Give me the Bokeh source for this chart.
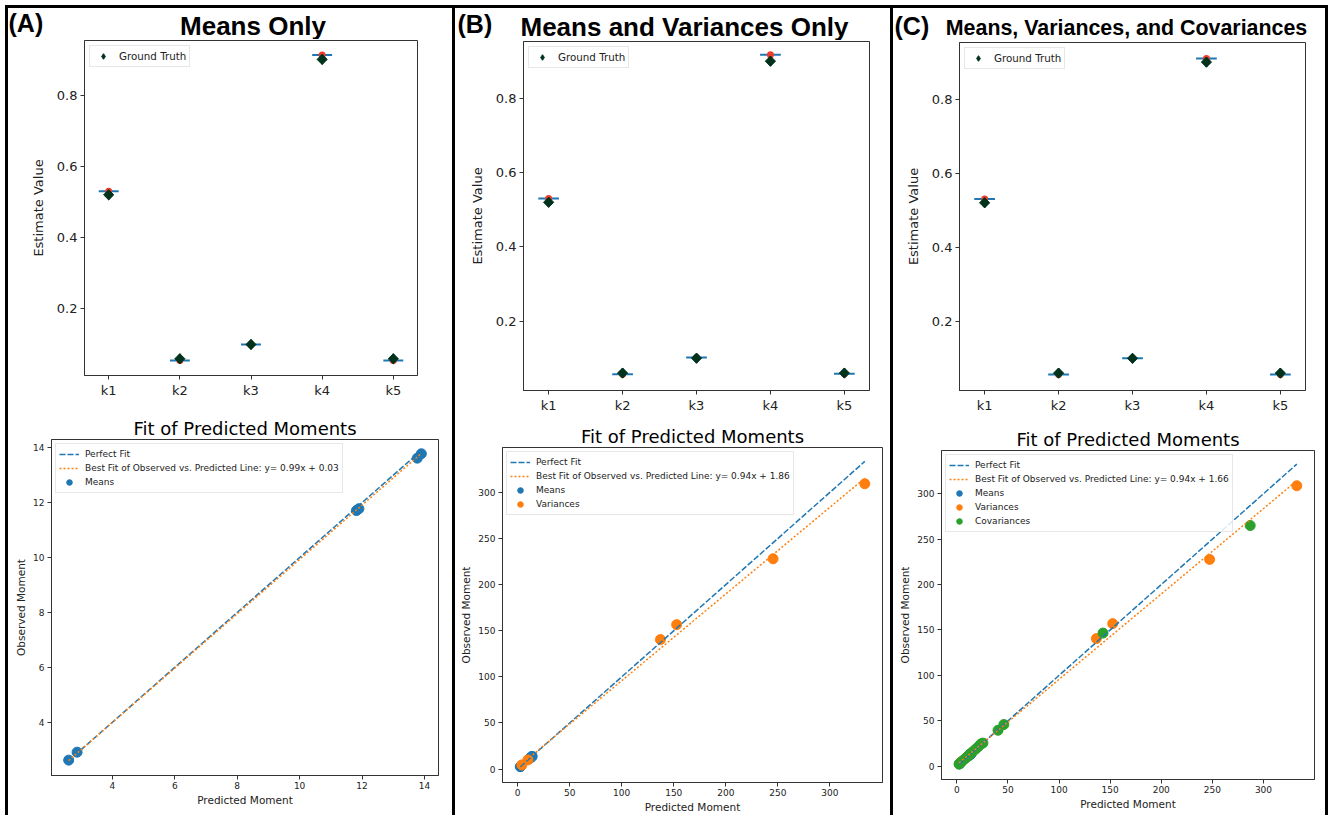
import numpy as np
from bokeh.plotting import figure
from bokeh.layouts import row, column
from bokeh.models import Range1d, FixedTicker, Legend, LegendItem, Div, Spacer, Title
from bokeh.core.properties import value
from bokeh.embed import file_html
from bokeh.resources import INLINE

# ---------------- data ----------------
categories = ["k1", "k2", "k3", "k4", "k5"]
ground_truth = [0.52, 0.06, 0.10, 0.90, 0.06]
estimate_a = [0.530, 0.055, 0.100, 0.912, 0.055]
estimate_b = [0.530, 0.057, 0.102, 0.917, 0.058]
estimate_c = [0.530, 0.056, 0.100, 0.910, 0.056]

means_pred = [2.60, 2.87, 11.82, 11.90, 13.77, 13.90]
means_obs = [2.62, 2.91, 11.71, 11.78, 13.62, 13.78]

var_pred_b = [4.1, 9.9, 137.2, 152.8, 245.4, 333.5]
var_obs_b = [4.6, 10.0, 140.4, 156.6, 228.0, 309.3]

var_pred_c = [4.1, 9.9, 136.5, 152.5, 247.3, 332.6]
var_obs_c = [4.6, 10.0, 140.5, 157.0, 227.7, 308.8]

cov_pred_c = [2.2, 3.5, 5.5, 8.0, 10.5, 12.5, 15.0, 18.0, 21.0, 23.5, 25.5, 40.3, 46.0, 143.0, 287.0]
cov_obs_c = [2.3, 3.6, 5.8, 8.2, 10.8, 13.0, 15.5, 18.5, 21.5, 24.5, 25.5, 39.6, 45.9, 146.6, 265.0]

fit_a = (0.99, 0.03)
fit_b = (0.94, 1.86)
fit_c = (0.94, 1.66)

panel_letters = ["(A)", "(B)", "(C)"]
panel_titles = ["Means Only", "Means and Variances Only", "Means, Variances, and Covariances"]
bottom_title = "Fit of Predicted Moments"
moment_ticks_a = [4, 6, 8, 10, 12, 14]
moment_ticks_bc = [0, 50, 100, 150, 200, 250, 300]
estimate_ticks = [0.2, 0.4, 0.6, 0.8]

BLUE = "#1f77b4"
ORANGE = "#ff7f0e"
GREEN = "#2ca02c"
RED = "#f03c2d"
DKGREEN = "#01331c"
AXC = "#333333"
TXT = "#222222"
FONT = "DejaVu Sans"
BOLD_FONT = "Liberation Sans"
TEXT_SHIFT = 8  # empirical correction of the text baseline in the header strips


def make_fig(g):
    p = figure(width=g["w"], height=g["h"],
               x_range=Range1d(*g["x"]), y_range=Range1d(*g["y"]),
               min_border_left=g["L"], min_border_top=g["T"],
               min_border_right=g["w"] - g["L"] - g["W"],
               min_border_bottom=g["h"] - g["T"] - g["H"],
               toolbar_location=None, output_backend="svg", title=None)
    p.frame_align = False
    p.xgrid.visible = False
    p.ygrid.visible = False
    p.outline_line_color = AXC
    p.outline_line_alpha = 1
    p.outline_line_width = 1
    p.background_fill_color = "white"
    p.border_fill_color = "white"
    return p


def style_axes(p, tick_size, label_size, label_standoff):
    for ax in [p.xaxis[0], p.yaxis[0]]:
        ax.axis_line_color = AXC
        ax.major_tick_line_color = AXC
        ax.major_tick_in = 0
        ax.major_tick_out = 4
        ax.minor_tick_line_color = None
        ax.major_label_text_font = FONT
        ax.major_label_text_font_size = tick_size
        ax.major_label_text_color = TXT
        ax.axis_label_text_font = FONT
        ax.axis_label_text_font_size = label_size
        ax.axis_label_text_font_style = "normal"
        ax.axis_label_text_color = TXT
        ax.major_label_standoff = 3
        ax.axis_label_standoff = label_standoff


def make_header(w, h, letter, letter_x, letter_base, title, title_x, title_base, title_size):
    p = figure(width=w, height=h, x_range=Range1d(0, w), y_range=Range1d(0, h),
               min_border=0, toolbar_location=None, output_backend="svg", title=None,
               x_axis_location=None, y_axis_location=None)
    p.frame_align = False
    p.outline_line_color = None
    p.xgrid.visible = False
    p.ygrid.visible = False
    p.border_fill_color = "white"
    p.text(x=[letter_x], y=[h - letter_base + TEXT_SHIFT], text=[letter],
           text_font=value(BOLD_FONT), text_font_style="bold",
           text_font_size=value("25px"), text_align="left",
           text_baseline="alphabetic", text_color="black")
    p.text(x=[title_x], y=[h - title_base + TEXT_SHIFT], text=[title],
           text_font=value(BOLD_FONT), text_font_style="bold",
           text_font_size=value(title_size), text_align="center",
           text_baseline="alphabetic", text_color="black")
    return p


def make_top(g, est):
    p = make_fig(g)
    pos = [i + 1 for i in range(len(categories))]
    half = 0.14
    p.segment(x0=[v - half for v in pos], x1=[v + half for v in pos],
              y0=est, y1=est, line_color=BLUE, line_width=2)
    p.scatter(x=pos, y=est, size=7, color=RED, line_color=None)
    # diamond glyph (carries the legend entry), covered by the square-diamonds
    gt_leg = p.scatter(x=pos, y=ground_truth, marker="diamond", size=10,
                       fill_color=DKGREEN, line_color=DKGREEN)
    p.scatter(x=pos, y=ground_truth, marker="square", angle=np.pi / 4,
              size=7.2, fill_color=DKGREEN, line_color=DKGREEN)
    p.xaxis.ticker = FixedTicker(ticks=pos)
    p.xaxis.major_label_overrides = {v: c for v, c in zip(pos, categories)}
    p.yaxis.ticker = FixedTicker(ticks=estimate_ticks)
    p.yaxis.axis_label = "Estimate Value"
    style_axes(p, "13px", "13px", 8)
    leg = Legend(items=[LegendItem(label="Ground Truth", renderers=[gt_leg])],
                 location="top_left", margin=5, padding=3, spacing=0,
                 glyph_height=14, label_height=14, glyph_width=20,
                 label_standoff=6, label_text_font=FONT,
                 label_text_font_size="10.3px", label_text_color=TXT,
                 border_line_color="#d0d0d0", border_line_width=1,
                 background_fill_alpha=0.85)
    p.add_layout(leg)
    return p


def make_bottom(g, series, fit, ticks):
    p = make_fig(g)
    p.title = Title(text=bottom_title, align="center", text_font=FONT,
                    text_font_size="18px", text_font_style="normal",
                    text_color="black", standoff=2)
    items_pts = []
    all_pred = []
    for name, pred, obs, color in series:
        r = p.scatter(x=pred, y=obs, size=10, fill_color=color, line_color=color)
        items_pts.append(LegendItem(label=name, renderers=[r]))
        all_pred += list(pred)
    lo, hi = min(all_pred), max(all_pred)
    r_perfect = p.line(x=[lo, hi], y=[lo, hi], line_color=BLUE,
                       line_dash="6 2", line_width=1.5)
    slope, intercept = fit
    r_fit = p.line(x=[lo, hi], y=[slope * lo + intercept, slope * hi + intercept],
                   line_color=ORANGE, line_dash="2 2", line_width=1.5)
    fit_label = f"Best Fit of Observed vs. Predicted Line: y= {slope:.2f}x + {intercept:.2f}"
    items = [LegendItem(label="Perfect Fit", renderers=[r_perfect]),
             LegendItem(label=fit_label, renderers=[r_fit])] + items_pts
    leg = Legend(items=items, location="top_left", margin=4, padding=3,
                 spacing=0, glyph_height=14, label_height=14, glyph_width=20,
                 label_standoff=6, label_text_font=FONT,
                 label_text_font_size="9px", label_text_color=TXT,
                 border_line_color="#d0d0d0", border_line_width=1,
                 background_fill_alpha=0.85)
    p.add_layout(leg)
    p.xaxis.ticker = FixedTicker(ticks=ticks)
    p.yaxis.ticker = FixedTicker(ticks=ticks)
    p.xaxis.axis_label = "Predicted Moment"
    p.yaxis.axis_label = "Observed Moment"
    style_axes(p, "9px", "10.5px", 3)
    p.xaxis.major_label_standoff = 2
    p.xaxis.axis_label_standoff = 2
    return p


# ---------------- geometry (pixels inside each figure) ----------------
g_top_a = dict(w=444, h=371, L=76, T=1, W=333, H=335, x=(0.66, 5.34), y=(0.013, 0.953))
g_top_b = dict(w=435, h=378, L=68, T=1, W=346, H=349, x=(0.66, 5.34), y=(0.013, 0.953))
g_top_c = dict(w=432, h=377, L=66, T=1, W=346, H=348, x=(0.66, 5.34), y=(0.013, 0.953))

g_bot_a = dict(w=444, h=405, L=43, T=29, W=387, H=336, x=(2.05, 14.45), y=(2.06, 14.3))
g_bot_b = dict(w=435, h=397, L=47, T=29, W=380, H=336, x=(-14.5, 350.5), y=(-14.5, 348.6))
g_bot_c = dict(w=432, h=397, L=48, T=32, W=373, H=329, x=(-15.0, 349.9), y=(-14.6, 347.6))

head_a = make_header(444, 31, panel_letters[0], 0, 22, panel_titles[0], 244.5, 25, "26px")
head_b = make_header(435, 32, panel_letters[1], 2, 23, panel_titles[1], 229, 26, "26px")
head_c = make_header(432, 33, panel_letters[2], 1, 25, panel_titles[2], 233, 27, "21.4px")

top_a = make_top(g_top_a, estimate_a)
top_b = make_top(g_top_b, estimate_b)
top_c = make_top(g_top_c, estimate_c)

bot_a = make_bottom(g_bot_a, [("Means", means_pred, means_obs, BLUE)], fit_a, moment_ticks_a)
bot_b = make_bottom(g_bot_b, [("Means", means_pred, means_obs, BLUE),
                              ("Variances", var_pred_b, var_obs_b, ORANGE)], fit_b, moment_ticks_bc)
bot_c = make_bottom(g_bot_c, [("Means", means_pred, means_obs, BLUE),
                              ("Variances", var_pred_c, var_obs_c, ORANGE),
                              ("Covariances", cov_pred_c, cov_obs_c, GREEN)], fit_c, moment_ticks_bc)


def black(w, h):
    return Div(text="", width=w, height=h, margin=0,
               styles={"background-color": "black"})


col_a = column(head_a, top_a, bot_a, spacing=0)
col_b = column(head_b, top_b, bot_b, spacing=0)
col_c = column(head_c, top_c, bot_c, spacing=0)

body = row(Spacer(width=5, height=807), black(3, 807), col_a, black(3, 807), col_b,
           black(3, 807), col_c, black(3, 807), Spacer(width=3, height=807), spacing=0)
top_strip = row(Spacer(width=5, height=3), black(1323, 3), Spacer(width=3, height=3), spacing=0)
layout = column(Spacer(width=1331, height=5), top_strip, body, spacing=0)

with open("out.html", "w") as f:
    f.write(file_html(layout, INLINE))
